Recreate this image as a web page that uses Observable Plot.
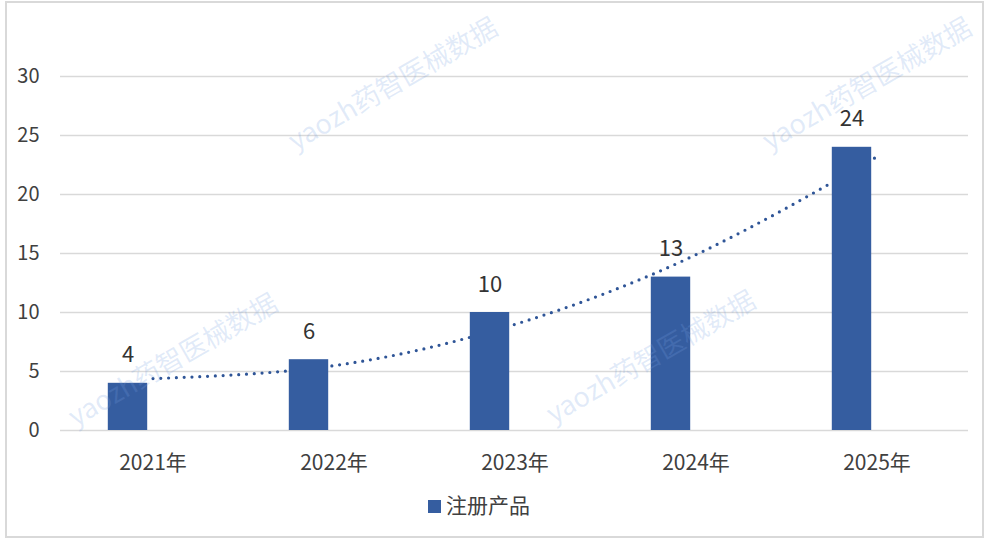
<!DOCTYPE html>
<html><head><meta charset="utf-8">
<script src="https://cdn.jsdelivr.net/npm/d3@7"></script>
<script src="https://cdn.jsdelivr.net/npm/@observablehq/plot@0.6"></script>
<style>
body{margin:0;background:#fff;font-family:"Noto Sans CJK SC","Noto Sans",sans-serif;}
#wrap{position:relative;width:984px;height:539px;overflow:hidden;background:#fff;}
#frame{position:absolute;left:5px;top:1px;width:975px;height:533px;border:2px solid #d9d9d9;box-sizing:content-box;}
#chart{position:absolute;left:0;top:0;}
.wm{position:absolute;font-size:27px;color:rgba(120,160,225,0.22);white-space:nowrap;transform:translate(-50%,-50%) rotate(-30deg);font-family:"Noto Sans CJK SC",sans-serif;}
#legend{position:absolute;left:0;width:958px;top:489px;text-align:center;font-size:21px;color:#404040;}
#legend span.sw{display:inline-block;width:13px;height:13px;background:#355da0;margin-right:5px;vertical-align:0px;}
</style></head>
<body>
<div id="wrap">
<div id="frame"></div>
<div id="chart"></div>
<div class="wm" style="left:392px;top:82px">yaozh药智医械数据</div>
<div class="wm" style="left:866px;top:82px">yaozh药智医械数据</div>
<div class="wm" style="left:172px;top:358px">yaozh药智医械数据</div>
<div class="wm" style="left:650px;top:355px">yaozh药智医械数据</div>
<div id="legend"><span class="sw"></span>注册产品</div>
</div>
<script>
const years = ["2021年","2022年","2023年","2024年","2025年"];
const products = [4, 6, 10, 13, 24];
const trend = [4.4, 5.5, 9.0, 14.9, 23.2];
const yTicks = [0, 5, 10, 15, 20, 25, 30];

const barData = years.map((y, i) => ({year: y, value: products[i]}));
const trendData = years.map((y, i) => ({year: y, value: trend[i]}));

const W = 984, H = 480;
const bw = (968 - 60) / years.length;
const barW = 40, off = -24;
const inL = (bw - barW) / 2 + off, inR = (bw - barW) / 2 - off;

const chart = Plot.plot({
  width: W, height: H,
  marginLeft: 60, marginRight: 16, marginTop: 76, marginBottom: H - 430,
  style: {fontFamily: '"Noto Sans CJK SC","Noto Sans",sans-serif', fontSize: "20px", color: "#404040", background: "transparent"},
  x: {domain: years, padding: 0, label: null, tickSize: 0, tickPadding: 26},
  y: {domain: [0, 30], ticks: yTicks, label: null, tickSize: 0, tickPadding: 0},
  marks: [
    Plot.gridY(yTicks, {stroke: "#d9d9d9", strokeOpacity: 1, strokeWidth: 1.5}),
    Plot.axisY({ticks: yTicks, tickSize: 0, tickPadding: 0, dx: -21, label: null, fontSize: 20, fill: "#404040"}),
    Plot.axisX({tickSize: 0, tickPadding: 25, label: null, fontSize: 21, fill: "#404040"}),
    Plot.line(trendData, {x: "year", y: "value", curve: "natural", stroke: "#2f5597", strokeWidth: 3.2, strokeDasharray: "0 7.8", strokeLinecap: "round"}),
    Plot.barY(barData, {x: "year", y: "value", fill: "#355da0", insetLeft: inL - 1, insetRight: inR + 1}),
    Plot.text(barData, {x: "year", y: "value", text: d => String(d.value), dx: off - 1, dy: -28, fontSize: 22, fill: "#333333"})
  ]
});
document.getElementById("chart").appendChild(chart);
</script>
</body></html>
